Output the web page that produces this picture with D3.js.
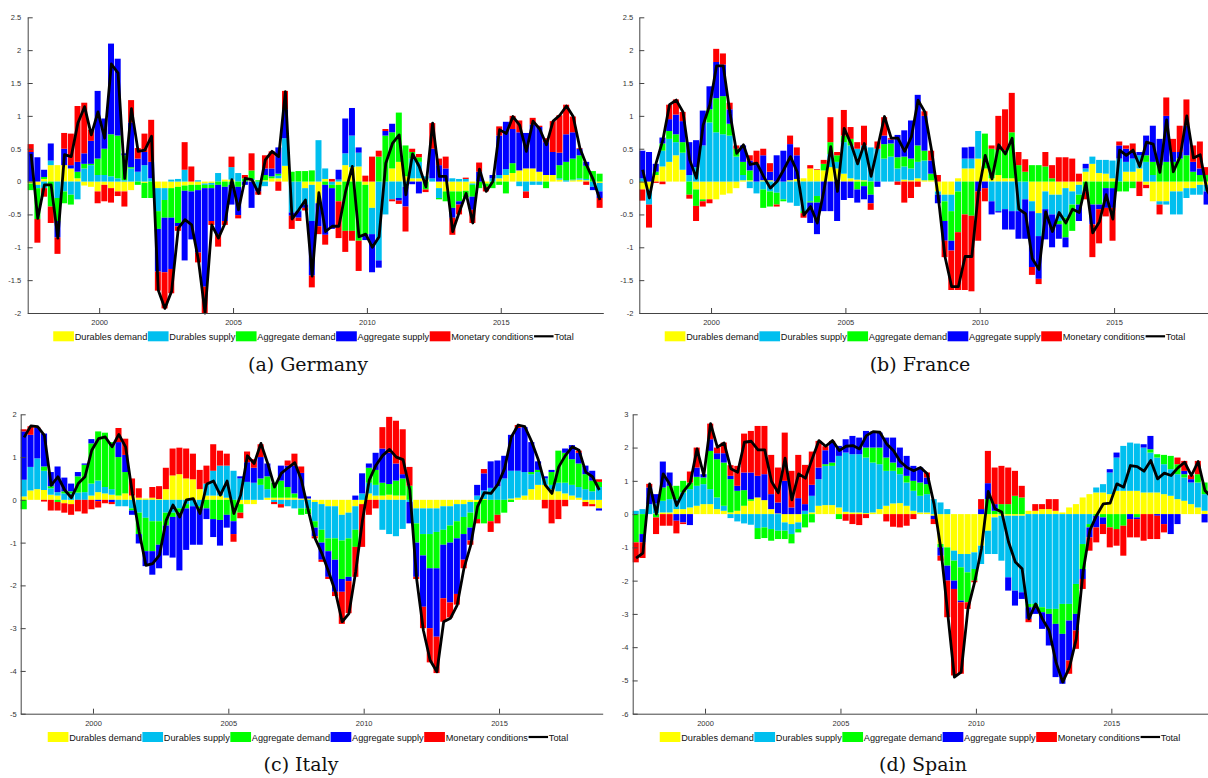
<!DOCTYPE html>
<html>
<head>
<meta charset="utf-8">
<script src="https://cdn.jsdelivr.net/npm/d3@7"></script>
<style>
  body { margin: 0; background: #fff; }
  svg { display: block; }
  text { font-family: "Liberation Sans", Arial, sans-serif; }
</style>
</head>
<body>
<svg id="chart" width="1208" height="778"></svg>
<script>
// Quarterly bars, first quarter at 1997.33, 86 quarters
const firstQuarter = 1997.33;
const nQuarters = 86;
const yearTicks = [2000, 2005, 2010, 2015];

const seriesKeys = ['dd', 'ds', 'ad', 'as', 'mc'];
const seriesNames = ['Durables demand', 'Durables supply', 'Aggregate demand', 'Aggregate supply', 'Monetary conditions'];
const seriesColors = ['#ffff00', '#00bfef', '#00ff00', '#0000ff', '#ff0000'];

// ---- Germany ----
const deDD = [-.03,-.05,.04,.25,.25,.25,.2,.05,-.06,-.08,
  -.15,-.05,-.1,-.15,-.15,-.13,0,-.02,0,-.1,
  -.1,-.1,-.08,-.06,-.05,-.05,-.03,-.02,0,.03,
  .03,0,0,.02,0,.02,.05,.05,.24,0,
  0,-.1,-.05,-.33,.04,0,-.05,.25,.22,.23,
  -.05,-.4,0,0,.2,.3,.08,.05,.05,.03,
  0,-.1,-.15,-.15,-.15,-.14,-.03,0,-.03,0,
  .05,.1,.13,.17,.2,.2,.15,.1,.1,.03,
  0,.02,.03,.02,0,-.02];
const deDS = [0,-.05,-.1,.07,-.25,-.15,-.2,-.27,.2,.25,
  .1,.1,.08,.05,.02,.2,.15,.25,.05,-.35,
  -.18,.03,.04,.18,0,.02,-.02,-.03,.13,0,
  .19,.13,0,.02,-.1,-.07,0,.04,.42,-.47,
  -.45,-.25,-.55,.63,.16,-.05,.03,.18,.48,.21,
  0,-.4,-1.2,-.5,-.27,-.25,-.08,.3,.25,.05,
  .05,-.15,0,.05,.04,.04,-.02,0,0,.05,
  .05,.09,0,-.07,-.15,-.05,-.05,0,0,.02,
  .02,.01,.02,.02,-.08,-.13];
const deAD = [-.1,-.47,.03,-.38,-.35,-.18,-.15,.1,.07,.02,
  .25,.4,.64,.65,.38,.02,-.05,-.23,-.25,-.27,
  -.27,-.45,-.55,-.08,-.1,-.08,-.05,-.05,-.05,-.08,
  -.05,-.08,.05,.13,.02,.08,.03,.03,0,.15,
  .16,.16,.17,0,-.05,-.05,-.25,-.75,-.75,-.9,
  -.75,0,.38,.7,.55,.75,.47,.1,.07,-.12,
  0,-.02,-.15,-.25,-.15,-.1,-.18,-.1,-.05,-.1,
  -.05,-.18,.15,0,0,0,0,-.1,0,.2,
  .28,.32,.35,.2,.16,.12];
const deAS = [.45,.37,.11,.26,-.25,.25,.05,.15,.16,.35,
  1.03,.46,1.38,1.17,.03,.68,.2,.2,.25,-.65,
  -.83,-.78,-.05,-1.06,-.73,-.95,-1.5,-.5,-.75,-.52,
  -.3,-.43,-.05,-.4,-.05,.1,.12,.4,.44,-.05,
  -.1,-.05,-.83,-.35,-.76,-.62,.15,.53,.42,.08,
  -.09,-.58,-.11,.07,.13,-.04,-.3,-.04,-.18,0,
  .45,.25,.2,-.15,-.05,0,-.2,.15,0,.05,
  .6,.72,.52,.58,.54,.67,.68,.5,.35,.19,
  .42,.4,.1,.06,-.05,-.1];
const deMC = [.12,-.36,-.13,-.25,-.25,.24,.48,.85,.77,.17,
  -.18,-.25,-.22,-.07,-.23,.34,.16,.28,.64,-.29,
  -.55,-.37,-.07,.42,.23,-.15,-.4,-.06,-.19,-.06,
  .16,-.05,.05,.26,-.05,.2,.26,-.14,.28,-.2,
  -.05,-.04,-.18,-.12,-.15,.04,-.56,-.32,-.15,-.46,
  .09,.38,.09,.03,-.03,-.05,-.38,.05,.05,-.04,
  .39,.1,.18,-.26,-.15,.02,-.2,.14,-.07,0,
  .14,0,.2,.18,-.1,.1,.02,.06,.47,.57,
  .45,.24,.01,-.05,0,-.15];
const deTotal = [.42,-.56,-.05,-.05,-.86,.41,.38,.89,1.14,.71,
  1.06,.66,1.79,1.65,.05,1.11,.46,.48,.69,-1.65,
  -1.93,-1.67,-.71,-.58,-.66,-1.19,-2.0,-.66,-.86,-.63,
  .03,-.43,.05,.03,-.18,.33,.46,.38,1.37,-.57,
  -.43,-.28,-1.44,-.17,-.76,-.68,-.68,-.15,.23,-.84,
  -.8,-1.0,-.84,.28,.58,.71,-.2,.42,.23,-.08,
  .89,.08,.08,-.76,-.46,-.18,-.63,.19,-.15,0,
  .79,.73,.99,.86,.46,.92,.8,.56,.92,1.01,
  1.15,.99,.51,.25,.03,-.28];

// ---- France ----
const frDD = [-.12,-.12,.1,.23,.3,.4,.18,0,-.12,-.27,
  -.27,-.27,-.2,-.18,-.1,.02,.02,0,.02,.02,
  0,0,.02,.04,.05,.2,.18,.17,.22,.2,
  .12,.05,.03,.02,0,0,0,0,0,.03,
  .02,.05,.02,.02,-.15,-.2,-.2,.05,.2,.2,
  .35,.2,.05,.1,.05,.05,0,0,-.3,-.48,
  -.15,-.2,-.2,-.1,-.15,-.05,.15,.27,.13,.12,
  .05,0,.15,.15,.2,-.05,-.3,-.3,-.3,-.15,
  -.15,-.1,-.1,-.05,-.05,-.05];
const frDS = [.05,-.23,0,.24,.35,.2,.26,.1,.22,.55,
  .9,.75,.72,.7,.38,.08,-.1,-.18,-.12,-.15,
  -.17,-.27,-.32,-.37,-.45,-.3,-.22,0,.2,.1,
  .48,.5,.47,.53,.52,.5,.35,.38,.2,.2,
  .18,.25,.3,0,-.05,-.1,-.25,-.15,.15,.15,
  .42,0,-.3,-.45,-.42,-.45,-.45,-.27,-.15,-.35,
  -.27,-.3,-.4,-.45,-.2,-.15,.05,.11,.2,.21,
  .27,.35,.15,.2,.2,.3,.1,-.05,-.05,-.35,
  -.35,-.15,-.1,-.15,-.1,-.1];
const frAD = [0,0,.05,.11,.12,.12,.16,-.2,-.25,-.03,
  .2,.52,.58,.18,.12,.2,.15,0,-.28,-.23,
  -.18,-.03,0,0,-.03,-.02,-.1,.1,.18,.1,
  .1,.1,-.12,-.07,-.2,0,.22,.2,.17,.15,
  .15,.25,.15,.1,0,-.3,-.45,-.62,-.5,-.52,
  0,.53,.45,.38,.43,.7,.25,.15,.25,.25,
  .23,.05,-.05,-.3,-.4,-.15,-.15,-.35,-.35,-.1,
  -.1,-.15,-.15,-.1,0,.1,.2,.25,.3,.3,
  .35,.4,.15,.1,.1,.05];
const frAS = [.42,.45,.12,.09,.18,.3,.32,.5,.41,.53,
  .35,.55,.48,.22,0,.25,.15,.27,.38,.13,
  .4,.47,.55,.36,0,-.31,-.48,-.45,-.45,-.6,
  -.28,-.25,-.2,-.2,-.13,-.08,.13,.06,.34,.4,
  .58,.77,.53,.2,-.13,-.3,-.15,0,.17,.18,
  -.15,-.1,-.2,-.02,-.31,-.28,-.42,-.6,-.85,-.65,
  -.46,-.5,-.22,-.15,0,-.25,.07,-.3,-.07,-.3,
  -.3,.2,.2,.1,.05,.3,.55,.4,.7,.15,
  .1,.45,.15,.1,-.2,-.2];
const frMC = [-.17,-.35,-.02,-.04,.22,.23,.14,-.06,-.23,-.08,
  -.06,.2,.17,.1,.05,0,.08,.2,.1,.13,
  -.03,0,.13,.12,-.07,.05,.01,.06,.38,.05,
  .39,.18,.1,.3,-.1,.11,.28,.02,-.05,-.32,
  -.25,-.08,.07,.15,.1,-.25,-.6,-.88,-1.15,-1.15,
  -.75,-.2,.05,.52,.62,.6,.2,.19,-.12,-.08,
  .22,.2,.37,.37,.35,.12,-.12,-.5,-.52,-.13,
  -.5,.06,.05,.13,-.22,-.05,0,-.15,.28,.2,
  .4,.4,.25,.41,.12,0];
const frTotal = [.18,-.25,.28,.63,1.17,1.24,1.06,.33,.05,.86,
  1.17,1.76,1.76,1.04,.43,.56,.26,.28,.08,-.1,
  0,.18,.38,.15,-.51,-.38,-.63,-.13,.53,-.15,
  .81,.58,.27,.58,.08,.53,.99,.66,.66,.46,
  .68,1.24,1.06,.48,-.23,-1.14,-1.6,-1.6,-1.14,-1.14,
  -.15,.4,.04,.56,.42,.66,-.42,-.49,-1.17,-1.34,
  -.46,-.76,-.47,-.63,-.42,-.47,-.02,-.78,-.61,-.2,
  -.57,.48,.4,.48,.23,.6,.57,.14,.94,.15,
  .38,1.0,.36,.41,-.13,-.3];

// ---- Italy ----
const itDD = [.08,.22,.25,.23,.12,.1,-.08,-.1,0,0,
  .1,.18,.15,.12,.1,.15,.1,.05,.03,.05,
  .02,.25,.57,.6,.5,.48,.25,.1,.1,.1,
  .05,0,-.1,-.1,-.1,0,.05,.05,.05,.05,
  .05,.03,.03,-.05,-.1,-.15,-.15,-.35,-.3,-.15,
  -.1,.15,.1,.1,.12,.1,.1,0,-.2,-.2,
  -.2,-.2,-.15,-.15,-.1,-.1,-.05,-.05,.02,0,
  0,0,.03,.05,.1,.25,.35,.35,.25,.2,
  .15,.1,.05,-.05,-.1,-.2];
const itDS = [.39,.55,.72,.45,.15,.08,.15,.15,.17,.18,
  .28,.27,.15,.13,-.15,-.15,-.2,-.3,-.42,-.5,
  -.5,-.3,-.3,-.2,-.1,-.15,-.15,.28,.58,.7,
  .75,.68,.5,.42,.4,.35,.2,-.05,-.1,-.15,
  -.2,-.2,-.2,-.45,-.6,-.75,-.75,-.6,-.6,-.55,
  .15,.25,.25,-.7,-.8,-.85,-.68,-.05,-.35,-.6,
  -.6,-.55,-.55,-.45,-.4,-.3,-.25,.1,.2,.28,
  .32,.5,.65,.63,.55,.35,.3,.15,.1,.2,
  .25,.25,.25,.25,.2,.3];
const itAD = [-.22,0,0,.1,.05,-.05,.05,.05,.38,.64,
  .94,1.15,1.27,1.1,.9,.5,-.05,-.5,-.78,-.7,
  -.55,-.3,-.1,-.1,-.1,0,-.05,-.2,-.45,-.47,
  -.35,-.5,-.2,0,0,.15,.3,.35,.4,.25,
  .1,-.15,-.13,-.15,-.3,-.3,-.5,-.9,-.9,-.4,
  0,.35,.35,.3,.25,.35,.4,.33,-.45,-.5,
  -.8,-.85,-.35,-.4,-.4,-.4,-.35,-.4,-.55,-.5,
  -.35,-.3,-.05,0,0,.05,.05,0,.3,.75,
  .7,.6,.55,.35,.25,.12];
const itAS = [1.13,.75,.71,.77,.33,.6,.32,.18,.1,.03,
  .1,-.03,0,-.05,.35,.4,-.1,-.22,-.35,-.55,
  -.55,-.7,-.95,-1.35,-.97,-.9,-.85,-.25,-.42,-.6,
  -.3,-.3,.05,.46,.35,.5,.3,0,.35,.5,
  .65,.6,.05,-.2,-.4,-.6,-.75,-.3,-.1,.1,
  .47,.1,.4,.8,.73,.4,.1,-.5,-.8,-1.2,
  -1.4,-1.6,-1.25,-1.4,-1.3,-.6,-.3,.25,.4,.62,
  .6,.53,.84,1.0,1.05,.7,.2,.05,.05,0,
  .1,.33,.25,.2,.23,-.05];
const itMC = [.05,.2,.02,-.04,-.25,-.2,-.22,-.25,-.27,-.32,
  -.22,-.15,-.08,-.05,.33,.38,.4,.22,0,.25,
  .3,.5,.63,.62,.7,.6,.45,.42,.62,.35,
  .28,-.18,-.13,.25,.2,.3,0,-.05,-.08,.12,
  .28,.15,0,-.05,-.05,-.05,-.1,-.75,-.75,-.7,
  -1.0,-.35,-.2,.5,.84,1.0,1.05,.44,-.05,-.5,
  -.8,-.85,-.55,-.35,-.25,-.2,-.1,-.1,.1,-.25,
  -.2,0,0,.07,0,0,0,-.2,-.55,-.45,
  -.15,0,.05,-.1,-.05,.06];
const itTotal = [1.46,1.73,1.71,1.51,.34,.54,.23,.05,.38,.54,
  1.16,1.43,1.47,1.24,1.53,1.24,.15,-.75,-1.53,-1.49,
  -1.29,-.48,-.12,-.4,0,.03,-.32,.37,.44,.11,
  .44,-.32,.11,1.03,.85,1.32,.85,.3,.62,.75,
  .87,.45,-.25,-.9,-1.25,-1.68,-2.15,-2.85,-2.66,-1.68,
  -.48,.46,.81,1.04,1.18,1.0,.94,.23,-1.84,-3.05,
  -3.75,-4.02,-2.85,-2.77,-2.46,-1.6,-1.06,-.16,.17,.15,
  .36,.73,1.47,1.75,1.71,1.36,.93,.35,.15,.77,
  1.04,1.24,1.16,.65,.54,.23];

// ---- Spain ----
const esDD = [0,0,0,.02,.05,.05,.15,.15,.2,.25,
  .3,.3,.15,.1,.05,.1,.25,.4,.5,.42,
  .15,.02,-.25,-.3,-.25,0,.05,.25,.27,.27,
  .2,.07,.05,.05,.03,.05,.15,.25,.32,.33,
  .25,.1,.05,.05,-.05,-.9,-1.0,-1.1,-1.2,-1.2,
  -1.15,-.95,-.5,-.1,-.05,-.05,-.05,-.05,.1,.1,
  .15,.15,.1,.05,.2,.3,.5,.6,.65,.65,
  .6,.7,.7,.7,.7,.65,.65,.65,.6,.55,
  .45,.4,.3,.2,.1,.1];
const esDS = [.1,.15,.3,.3,.35,.4,.3,.5,.55,.6,
  .6,.45,.35,.15,-.12,-.22,-.28,-.32,-.42,-.4,
  -.45,-.5,-.25,-.3,-.2,.1,.5,.8,1.18,1.18,
  1.55,1.78,1.75,1.75,1.67,1.5,1.35,1.05,.98,.87,
  .7,.6,.5,.55,.45,.35,.15,-.3,-.4,-.55,
  -.5,-.55,-.7,-1.1,-1.35,-1.85,-2.25,-2.3,-2.7,-2.7,
  -2.8,-2.85,-2.85,-2.7,-2.7,-2.1,-.9,-.3,.15,.25,
  .65,1.0,1.35,1.45,1.42,1.35,1.2,1.05,.9,.8,
  .75,.7,.65,.75,.5,.4];
const esAD = [-.85,-.6,0,-.1,.4,.4,.4,.35,.2,.27,
  .2,1.15,1.15,1.3,1.0,.6,.47,.05,-.33,-.32,
  -.35,-.25,-.25,-.28,-.1,-.4,-.25,0,.05,.1,
  -.15,0,0,0,.3,.45,.5,.4,.25,.2,
  .2,.3,.4,.3,0,-.1,-.55,-.6,-1.0,-.9,
  -.35,0,.45,.1,.3,.3,.55,.5,-.1,-.1,
  -.15,-.15,-.45,-.9,-.5,-.9,-.75,-.1,-.05,-.1,
  -.4,-.45,-.35,0,-.1,0,.1,.1,.28,.4,
  .3,.1,0,.25,.35,.2];
const esAS = [0,-.25,.5,.28,.78,.4,-.2,-.25,-.33,.28,
  .1,.35,.18,.28,.1,.15,.53,.8,.65,.78,
  .45,.33,1.0,.2,.48,.2,.33,.35,.42,.6,
  .3,.4,.55,.5,.5,.48,.45,.6,.75,.6,
  .6,.45,.45,.2,-.1,-.25,-.45,-.25,-.05,0,
  0,.15,.48,.2,0,-.4,-.45,-.2,-.35,-.2,
  -.5,-.95,-1.6,-1.5,-1.2,-.5,-.3,-.3,-.35,-.2,
  .1,.15,0,-.15,-.05,.1,.4,-.05,-.3,-.6,
  -.3,.1,.1,0,-.25,-.2];
const esMC = [-.6,-.47,.11,-.5,-.35,-.35,-.38,-.05,.33,.6,
  0,.47,.17,.32,.32,.6,1.17,1.25,1.5,1.45,
  1.18,1.05,1.45,1.1,1.3,1.18,1.0,.8,.12,.05,
  0,-.2,-.3,-.33,-.12,0,0,-.22,-.38,-.4,
  -.35,-.15,0,.15,-.15,-.15,-1.1,-2.6,-2.15,-.2,
  -.05,.3,.97,1.1,1.15,1.1,.75,.35,-.1,.2,
  .15,.3,.35,0,-.4,-.55,-.3,-.4,-.45,-.3,
  -.6,-.5,-.9,-.55,-.55,-.8,-.75,-.7,-.25,0,
  .2,.3,.12,.4,0,0];
const esTotal = [-1.32,-1.17,.91,0,1.21,.89,.26,.68,.94,1.96,
  1.16,2.72,2.01,2.14,1.36,1.26,2.16,2.19,1.93,1.93,
  .98,.64,1.68,.43,1.21,1.08,1.66,2.21,2.04,2.21,
  1.91,2.04,2.06,1.96,2.36,2.48,2.46,2.11,1.91,1.58,
  1.4,1.3,1.4,1.21,.3,-1.04,-2.95,-4.9,-4.75,-2.85,
  -2.04,-1.04,.68,.16,.06,-.84,-1.44,-1.64,-3.15,-2.7,
  -3.15,-3.5,-4.45,-5.05,-4.6,-3.75,-1.74,-.49,-.04,.31,
  .33,.91,.81,1.46,1.43,1.29,1.61,1.06,1.23,1.16,
  1.39,1.56,1.16,1.58,.71,.5];

const panels = [
  { caption: '(a) Germany', dd: deDD, ds: deDS, ad: deAD, as: deAS, mc: deMC, total: deTotal,
    x0: 27.7, x1: 603.3, y0: 17.3, y1: 313, yDomain: [-2, 2.5], yTicks: d3.range(-2, 2.51, 0.5),
    labelGap: 6.5, legendCx: 313.5, captionX: 308, captionY: 371 },
  { caption: '(b) France', dd: frDD, ds: frDS, ad: frAD, as: frAS, mc: frMC, total: frTotal,
    x0: 639.3, x1: 1217, y0: 17.3, y1: 313, yDomain: [-2, 2.5], yTicks: d3.range(-2, 2.51, 0.5),
    labelGap: 6, legendCx: 925, captionX: 920, captionY: 371 },
  { caption: '(c) Italy', dd: itDD, ds: itDS, ad: itAD, as: itAS, mc: itMC, total: itTotal,
    x0: 20.7, x1: 602.7, y0: 414.3, y1: 713.7, yDomain: [-5, 2], yTicks: d3.range(-5, 2.01, 1),
    labelGap: 4, legendCx: 308, captionX: 301, captionY: 771 },
  { caption: '(d) Spain', dd: esDD, ds: esDS, ad: esAD, as: esAS, mc: esMC, total: esTotal,
    x0: 632.7, x1: 1215.1, y0: 414.3, y1: 713.7, yDomain: [-6, 3], yTicks: d3.range(-6, 3.01, 1),
    labelGap: 4.4, legendCx: 920, captionX: 923, captionY: 771 }
];

const svg = d3.select('#chart');
svg.append('rect').attr('width', 1208).attr('height', 778).attr('fill', '#fff');

panels.forEach(p => {
  const rows = d3.range(nQuarters).map(i => ({
    t: firstQuarter + i * 0.25,
    dd: p.dd[i], ds: p.ds[i], ad: p.ad[i], as: p.as[i], mc: p.mc[i], total: p.total[i]
  }));

  const x = d3.scaleLinear()
    .domain([firstQuarter, firstQuarter + nQuarters * 0.25])
    .range([p.x0, p.x1]);
  const y = d3.scaleLinear().domain(p.yDomain).range([p.y1, p.y0]);

  const stacked = d3.stack().keys(seriesKeys).offset(d3.stackOffsetDiverging)(rows);
  const g = svg.append('g');

  // Stacked bars
  g.selectAll('g.layer')
    .data(stacked)
    .join('g')
    .attr('class', 'layer')
    .attr('fill', (d, i) => seriesColors[i])
    .selectAll('rect')
    .data(d => d)
    .join('rect')
    .attr('x', d => x(d.data.t))
    .attr('width', d => Math.max(0, x(d.data.t + 0.25) - x(d.data.t) - 0.7))
    .attr('y', d => y(Math.max(d[0], d[1])))
    .attr('height', d => Math.abs(y(d[0]) - y(d[1])));

  // Total line
  const line = d3.line()
    .x(d => x(d.t + 0.125))
    .y(d => y(d.total));
  g.append('path')
    .datum(rows)
    .attr('fill', 'none')
    .attr('stroke', '#000')
    .attr('stroke-width', 2.8)
    .attr('stroke-linejoin', 'round')
    .attr('d', line);

  // Y axis (ticks inward)
  const yAxis = g.append('g')
    .attr('transform', `translate(${p.x0},0)`)
    .call(d3.axisLeft(y).tickValues(p.yTicks).tickFormat(d => String(+d.toFixed(1)))
      .tickSizeInner(-5).tickSizeOuter(0).tickPadding(p.labelGap));

  // X axis (ticks inward)
  const xAxis = g.append('g')
    .attr('transform', `translate(0,${p.y1})`)
    .call(d3.axisBottom(x).tickValues(yearTicks).tickFormat(d3.format('d'))
      .tickSizeInner(-5).tickSizeOuter(0).tickPadding(7));

  [yAxis, xAxis].forEach(a => {
    a.select('.domain').attr('stroke', '#444');
    a.selectAll('.tick line').attr('stroke', '#444');
    a.selectAll('.tick text').attr('fill', '#333').style('font-size', '7.5px')
      .style('font-family', '"Liberation Sans", Arial, sans-serif');
  });

  // Legend
  const lg = g.append('g');
  const boxW = 20.7, boxH = 10;
  const legTop = p.y1 + 18.3;
  let cx = 0;
  seriesNames.forEach((name, i) => {
    lg.append('rect').attr('x', cx).attr('y', legTop).attr('width', boxW).attr('height', boxH)
      .attr('fill', seriesColors[i]);
    cx += boxW + 0.8;
    const t = lg.append('text').attr('x', cx).attr('y', legTop + 8.8)
      .style('font-size', '9.2px').attr('fill', '#111').text(name);
    cx += t.node().getComputedTextLength() + 0.6;
  });
  lg.append('line').attr('x1', cx).attr('x2', cx + 19.5)
    .attr('y1', legTop + boxH / 2).attr('y2', legTop + boxH / 2)
    .attr('stroke', '#000').attr('stroke-width', 2.2);
  cx += 20.3;
  const tt = lg.append('text').attr('x', cx).attr('y', legTop + 8.8)
    .style('font-size', '9.2px').attr('fill', '#111').text('Total');
  cx += tt.node().getComputedTextLength();
  lg.attr('transform', `translate(${p.legendCx - cx / 2},0)`);

  // Caption
  svg.append('text')
    .attr('x', p.captionX).attr('y', p.captionY)
    .attr('text-anchor', 'middle')
    .style('font-family', '"DejaVu Serif", "Liberation Serif", serif')
    .style('font-size', '19px')
    .attr('fill', '#111')
    .text(p.caption);
});
</script>
</body>
</html>
